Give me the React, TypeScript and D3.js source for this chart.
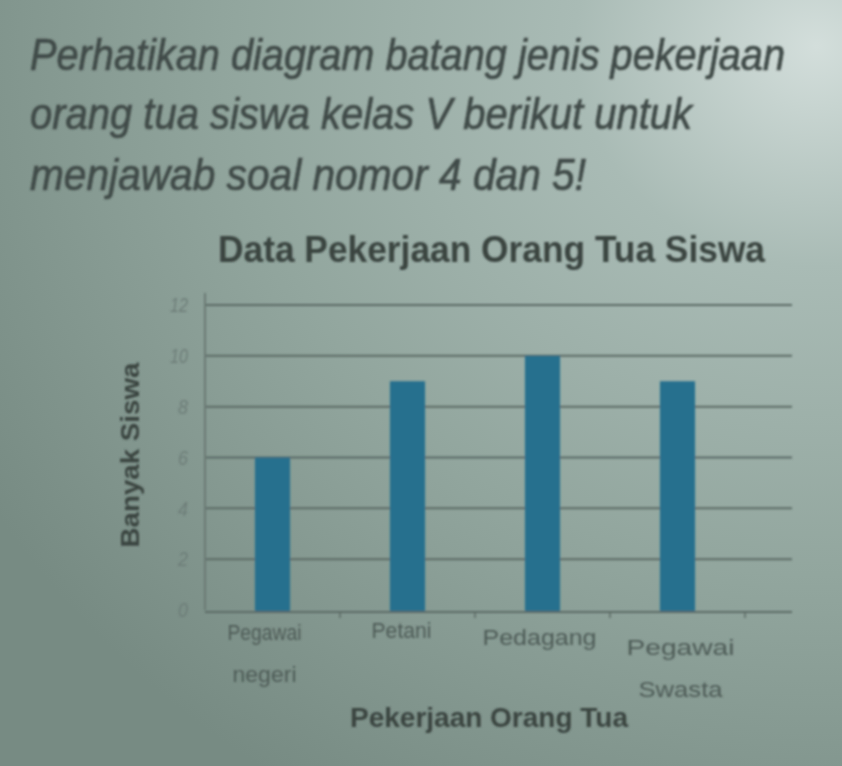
import React from "react";
import * as d3 from "d3";

const categories = ["Pegawai negeri", "Petani", "Pedagang", "Pegawai Swasta"];
const categoryLines = [["Pegawai", "negeri"], ["Petani"], ["Pedagang"], ["Pegawai", "Swasta"]];
const values = [6, 9, 10, 9];
const yTicks = [0, 2, 4, 6, 8, 10, 12];
const paragraph = [
  "Perhatikan diagram batang jenis pekerjaan",
  "orang tua siswa kelas V berikut untuk",
  "menjawab soal nomor 4 dan 5!",
];
const title = "Data Pekerjaan Orang Tua Siswa";
const yTitle = "Banyak Siswa";
const xTitle = "Pekerjaan Orang Tua";

const W = 842;
const H = 766;
const plot = { left: 205, right: 745, gridRight: 792, top: 305, bottom: 610 };

export default function App() {
  const x = d3.scaleBand<string>().domain(categories).range([plot.left, plot.right]).paddingInner(0.74).paddingOuter(0.37);
  const y = d3.scaleLinear().domain([0, 12]).range([plot.bottom, plot.top]);
  const paraWidths = [755, 662, 556];
  const paraBase = [70, 129, 190];
  const font = "'Liberation Sans', Arial, sans-serif";
  const labelDx = [-8, -6, -3, 3];
  const labelBase = [640, 638, 645, 655];
  const labelWidths = [[74, 64], [60], [114], [108, 84]];

  return (
    <svg width={W} height={H} style={{ position: "absolute", left: 0, top: 0 }}>
      <defs>
        <radialGradient id="bg" cx="0.97" cy="0.06" r="1.15">
          <stop offset="0" stopColor="#d3dedb" />
          <stop offset="0.25" stopColor="#a9bbb5" />
          <stop offset="0.6" stopColor="#92a69e" />
          <stop offset="1" stopColor="#778b83" />
        </radialGradient>
        <filter id="blur" x="-5%" y="-5%" width="110%" height="110%">
          <feGaussianBlur stdDeviation="1.2" />
        </filter>
      </defs>
      <rect x={0} y={0} width={W} height={H} fill="url(#bg)" />
      <g filter="url(#blur)">
        {paragraph.map((t, i) => (
          <g key={i} transform={`translate(30,${paraBase[i]}) scale(1,1.2)`}>
            <text x={0} y={0} fontFamily={font} fontStyle="italic" fontSize={37}
              fill="#414b48" stroke="#414b48" strokeWidth={0.6}
              textLength={paraWidths[i]} lengthAdjust="spacingAndGlyphs">{t}</text>
          </g>
        ))}
        <g transform="translate(218,262) scale(1,1.25)">
          <text x={0} y={0} fontFamily={font} fontWeight="bold" fontSize={30} fill="#3a4441"
            textLength={547} lengthAdjust="spacingAndGlyphs">{title}</text>
        </g>

        {yTicks.map((t) => (
          <g key={t}>
            {t > 0 && (
              <line x1={plot.left} x2={plot.gridRight} y1={y(t)} y2={y(t)} stroke="#5b6b66" strokeWidth={2} />
            )}
            <text x={188} y={y(t)} dy="0.36em" textAnchor="end" fontFamily={font} fontStyle="italic"
              fontSize={20} fill="#6d7d78" textLength={t >= 10 ? 18 : 10} lengthAdjust="spacingAndGlyphs">{t}</text>
          </g>
        ))}
        <line x1={plot.left} x2={plot.left} y1={293} y2={plot.bottom} stroke="#6a7a75" strokeWidth={2} />

        {categories.map((c, i) => (
          <rect key={c} x={x(c)} y={y(values[i])} width={x.bandwidth()} height={plot.bottom - y(values[i]) + 3}
            fill="#286f8e" />
        ))}
        <line x1={plot.left} x2={plot.gridRight} y1={plot.bottom + 2} y2={plot.bottom + 2} stroke="#5b6b66" strokeWidth={2} />
        {categories.slice(1).map((c) => (
          <line key={c} x1={x(c)! - (x.step() - x.bandwidth()) / 2} x2={x(c)! - (x.step() - x.bandwidth()) / 2}
            y1={plot.bottom + 2} y2={plot.bottom + 8} stroke="#5b6b66" strokeWidth={1.5} />
        ))}
        <line x1={plot.right} x2={plot.right} y1={plot.bottom + 2} y2={plot.bottom + 8} stroke="#5b6b66" strokeWidth={1.5} />

        {categories.map((c, i) => {
          const cx = x(c)! + x.bandwidth() / 2 + labelDx[i];
          return categoryLines[i].map((l, j) => (
            <text key={c + j} x={cx} y={labelBase[i] + j * 42} textAnchor="middle" fontFamily={font}
              fontSize={22} fill="#4e5b57" textLength={labelWidths[i][j]} lengthAdjust="spacingAndGlyphs">{l}</text>
          ));
        })}

        <text transform={`translate(139,455) rotate(-90)`} textAnchor="middle" fontFamily={font}
          fontWeight="bold" fontSize={25} fill="#3a4441" textLength={185} lengthAdjust="spacingAndGlyphs">{yTitle}</text>
        <text x={350} y={727} fontFamily={font} fontWeight="bold" fontSize={27} fill="#3a4441"
          textLength={278} lengthAdjust="spacingAndGlyphs">{xTitle}</text>
      </g>
    </svg>
  );
}
